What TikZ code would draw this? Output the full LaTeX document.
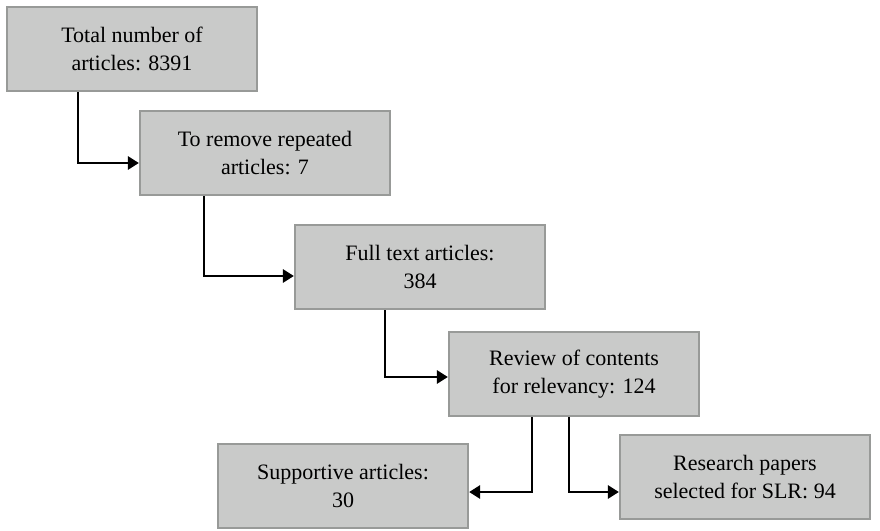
\documentclass[tikz,border=0pt]{standalone}
\usepackage{fontspec}
\setmainfont{Liberation Serif}
\usetikzlibrary{arrows.meta}
\definecolor{boxfill}{RGB}{201,202,201}
\definecolor{boxline}{RGB}{152,154,152}
\begin{document}
\begin{tikzpicture}[x=0.5pt,y=-0.5pt,
  stage/.style={draw=boxline, fill=boxfill, line width=1.1pt, minimum width=125pt, minimum height=42pt, inner sep=0pt, align=center, font=\fontsize{11}{14}\selectfont},
  link/.style={line width=1.4pt, -{Triangle[length=5.5pt,width=6.5pt]}}]
\useasboundingbox (0,0) rectangle (880,531);
% the screening steps
\node[stage] (total) at (132,49) {Total number of\\articles: 8391};
\node[stage] (repeated) at (265,153) {To remove repeated\\articles: 7};
\node[stage] (fulltext) at (420,267) {Full text articles:\\384};
\node[stage] (review) at (574,374) {Review of contents\\for relevancy: 124};
\node[stage] (support) at (343,486) {Supportive articles:\\30};
\node[stage] (selected) at (745,477) {Research papers\\selected for SLR: 94};
% connectors
\draw[link] ([xshift=36pt]total.south west) |- ([yshift=-5pt]repeated.west);
\draw[link] ([xshift=32.5pt]repeated.south west) |- ([yshift=-4.5pt]fulltext.west);
\draw[link] ([xshift=45.5pt]fulltext.south west) |- ([yshift=-1.5pt]review.west);
\draw[link] ([xshift=42pt]review.south west) |- ([yshift=-3pt]support.east);
\draw[link] ([xshift=60.5pt]review.south west) |- ([yshift=-7.5pt]selected.west);
\end{tikzpicture}
\end{document}
